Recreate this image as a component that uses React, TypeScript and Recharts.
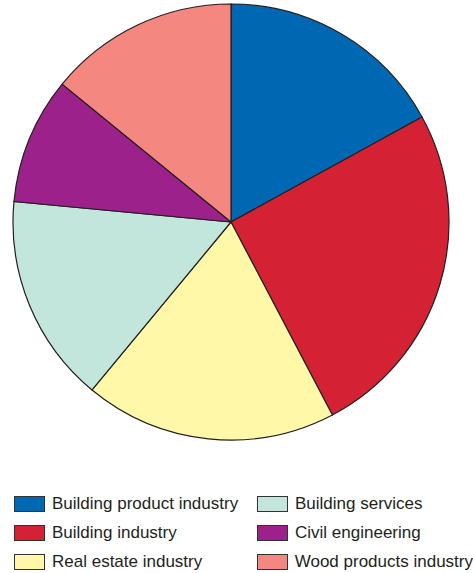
import React from 'react';
import { PieChart, Pie, Cell, Legend } from 'recharts';

const categories = [
  'Building product industry',
  'Building industry',
  'Real estate industry',
  'Building services',
  'Civil engineering',
  'Wood products industry',
];
const values = [17.0, 25.3, 18.7, 15.5, 9.4, 14.1];
const colors = ['#0068b3', '#d42234', '#fff8a8', '#c3e6dc', '#9c218a', '#f4877f'];
const legendOrder = [0, 3, 1, 4, 2, 5];

const data = categories.map((name, i) => ({ name, value: values[i] }));

const FONT = '"Liberation Sans Narrow", "Arial Narrow", "Liberation Sans", Arial, sans-serif';

const renderLegend = () => (
  <div
    style={{
      display: 'grid',
      gridTemplateColumns: '243px 230px',
      rowGap: 0,
      fontFamily: FONT,
      fontSize: 17,
      color: '#231f20',
    }}
  >
    {legendOrder.map((idx) => (
      <div key={idx} style={{ display: 'flex', alignItems: 'center', height: 29 }}>
        <span
          style={{
            display: 'inline-block',
            width: 29,
            height: 14,
            background: colors[idx],
            border: '1px solid #333',
            marginLeft: 14,
            marginRight: 7,
            boxSizing: 'content-box',
          }}
        />
        <span style={{ whiteSpace: 'nowrap' }}>{categories[idx]}</span>
      </div>
    ))}
  </div>
);

export default function App() {
  return (
    <div style={{ position: 'absolute', left: 0, top: 0, width: 473, height: 573, background: '#fff' }}>
      <PieChart width={473} height={573} margin={{ top: 0, right: 0, bottom: 0, left: 0 }}>
        <Pie
          data={data}
          dataKey="value"
          nameKey="name"
          cx={231}
          cy={222}
          outerRadius={218}
          startAngle={90}
          endAngle={-270}
          stroke="#231f20"
          strokeWidth={1.2}
          isAnimationActive={false}
        >
          {data.map((d, i) => (
            <Cell key={d.name} fill={colors[i]} />
          ))}
        </Pie>
        <Legend
          content={renderLegend}
          wrapperStyle={{ position: 'absolute', left: 0, top: 489, width: 473 }}
        />
      </PieChart>
    </div>
  );
}
